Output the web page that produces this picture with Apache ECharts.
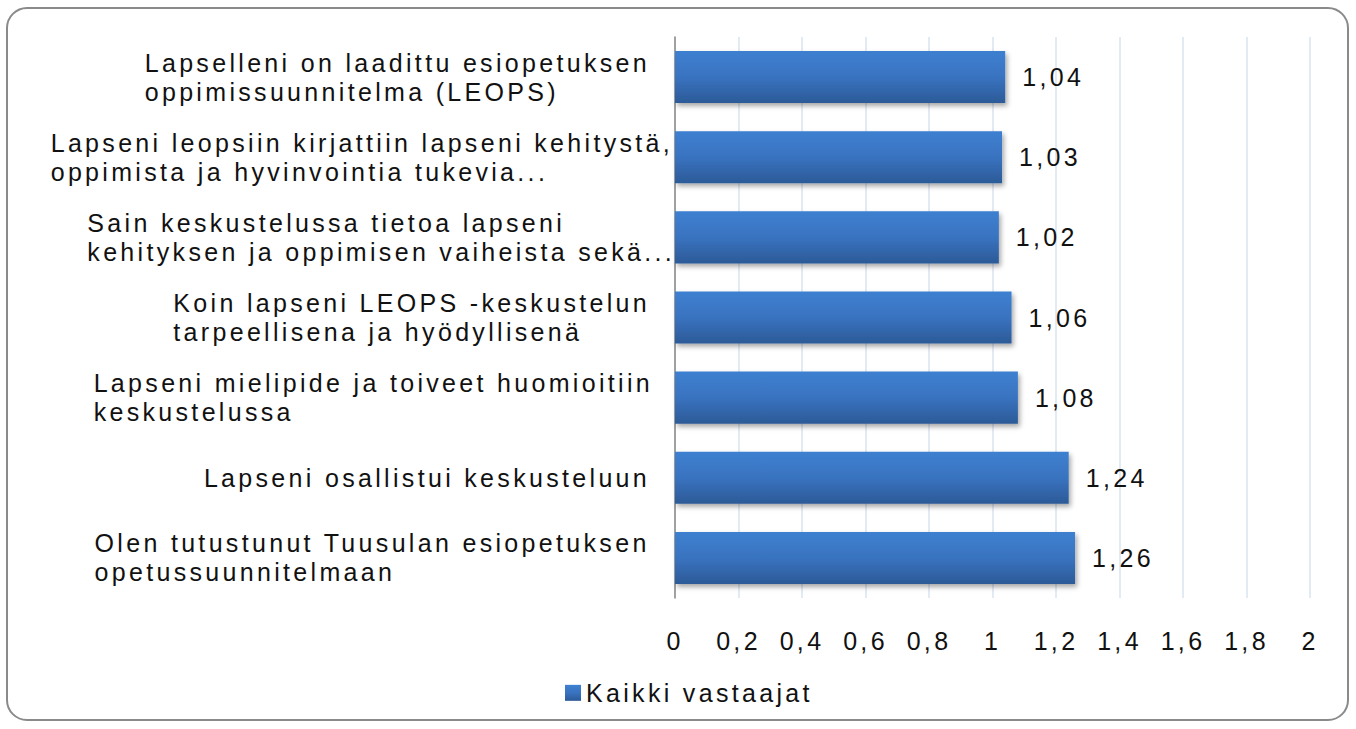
<!DOCTYPE html>
<html>
<head>
<meta charset="utf-8">
<script src="https://cdn.jsdelivr.net/npm/echarts@6/dist/echarts.min.js"></script>
<style>
  html, body { margin: 0; padding: 0; background: #fff; }
  #chart { width: 1356px; height: 729px; }
</style>
</head>
<body>
<div id="chart"></div>
<script>
const categories = [
    'Lapselleni on laadittu esiopetuksen\noppimissuunnitelma (LEOPS)',
    'Lapseni leopsiin kirjattiin lapseni kehitystä,\noppimista ja hyvinvointia tukevia...',
    'Sain keskustelussa tietoa lapseni\nkehityksen ja oppimisen vaiheista sekä...',
    'Koin lapseni LEOPS -keskustelun\ntarpeellisena ja hyödyllisenä',
    'Lapseni mielipide ja toiveet huomioitiin\nkeskustelussa',
    'Lapseni osallistui keskusteluun',
    'Olen tutustunut Tuusulan esiopetuksen\nopetussuunnitelmaan'
];
const values = [1.04, 1.03, 1.02, 1.06, 1.08, 1.24, 1.26];
const seriesName = 'Kaikki vastaajat';

// how far each label block sits left of the axis (long ones run closer)
const labelShift = [25, 2, 0, 25, 22, 25, 25];

const hasFont = (name) => {
    const c = document.createElement('canvas').getContext('2d');
    const probe = 'abcdefghijLMNOPQ';
    c.font = '40px monospace';
    const a = c.measureText(probe).width;
    c.font = '40px "' + name + '", monospace';
    return c.measureText(probe).width !== a;
};

const family = hasFont('Liberation Sans Narrow')
    ? '"Liberation Sans Narrow", "Liberation Sans", sans-serif'
    : '"Liberation Sans", Arial, sans-serif';

// the source text is widely tracked, so add letter spacing and measure with it
const mctx = document.createElement('canvas').getContext('2d');
mctx.font = '25px ' + family;
const natural = mctx.measureText('Lapselleni on laadittu esiopetuksen').width;
const LS = Math.max(0, (502 - natural) / 34);

const css = document.createElement('style');
css.textContent = '#chart text { letter-spacing: ' + LS.toFixed(2) + 'px; }';
document.head.appendChild(css);

if (echarts.setPlatformAPI) {
    echarts.setPlatformAPI({
        measureText: (text, font) => {
            mctx.font = font;
            const m = mctx.measureText(text);
            return {
                width: m.width + LS * text.length,
                actualBoundingBoxAscent: m.actualBoundingBoxAscent,
                actualBoundingBoxDescent: m.actualBoundingBoxDescent,
                fontBoundingBoxAscent: m.fontBoundingBoxAscent,
                fontBoundingBoxDescent: m.fontBoundingBoxDescent
            };
        }
    });
}

const comma = (v) => String(Math.round(v * 100) / 100).replace('.', ',');

const rich = {};
labelShift.forEach((p) => {
    rich['p' + p] = { align: 'left', padding: [0, p, 0, 0], lineHeight: 29 };
});

const chart = echarts.init(document.getElementById('chart'), null, { renderer: 'svg' });

chart.setOption({
    animation: false,
    textStyle: { fontFamily: family, color: '#111' },
    graphic: [{
        type: 'rect',
        shape: { x: 7, y: 8, width: 1341, height: 712, r: 20 },
        style: { fill: 'none', stroke: '#8a8a8a', lineWidth: 2 },
        silent: true
    }],
    grid: { left: 675, right: 46, top: 37, bottom: 131, containLabel: false },
    legend: {
        bottom: 17,
        left: 560,
        icon: 'rect',
        itemWidth: 16,
        itemHeight: 16,
        textStyle: { fontSize: 25, color: '#111', fontFamily: family },
        data: [seriesName]
    },
    xAxis: {
        type: 'value',
        min: 0,
        max: 2,
        interval: 0.2,
        axisLine: { show: false },
        axisTick: { show: false },
        splitLine: { show: true, lineStyle: { color: '#d9e3f0', width: 1.5 } },
        axisLabel: {
            margin: 29,
            fontSize: 25,
            color: '#111',
            fontFamily: family,
            formatter: (v) => comma(v)
        }
    },
    yAxis: {
        type: 'category',
        inverse: true,
        data: categories,
        axisTick: { show: false },
        axisLine: { show: true, lineStyle: { color: '#888', width: 1.5 } },
        axisLabel: {
            interval: 0,
            margin: 0,
            fontSize: 25,
            color: '#111',
            fontFamily: family,
            formatter: (value, index) => value.split('\n')
                .map((line) => '{p' + labelShift[index] + '|' + line + '}')
                .join('\n'),
            rich: rich
        }
    },
    series: [{
        name: seriesName,
        type: 'bar',
        data: values,
        barCategoryGap: '35%',
        itemStyle: {
            color: new echarts.graphic.LinearGradient(0, 0, 0, 1, [
                { offset: 0, color: '#3e80d0' },
                { offset: 0.5, color: '#3973c0' },
                { offset: 1, color: '#2c5a97' }
            ]),
            shadowColor: 'rgba(0,0,0,0.35)',
            shadowBlur: 5,
            shadowOffsetX: 2,
            shadowOffsetY: 3
        },
        label: {
            show: true,
            position: 'right',
            distance: 17,
            fontSize: 25,
            color: '#111',
            fontFamily: family,
            formatter: (p) => comma(p.value)
        }
    }]
});
</script>
</body>
</html>
